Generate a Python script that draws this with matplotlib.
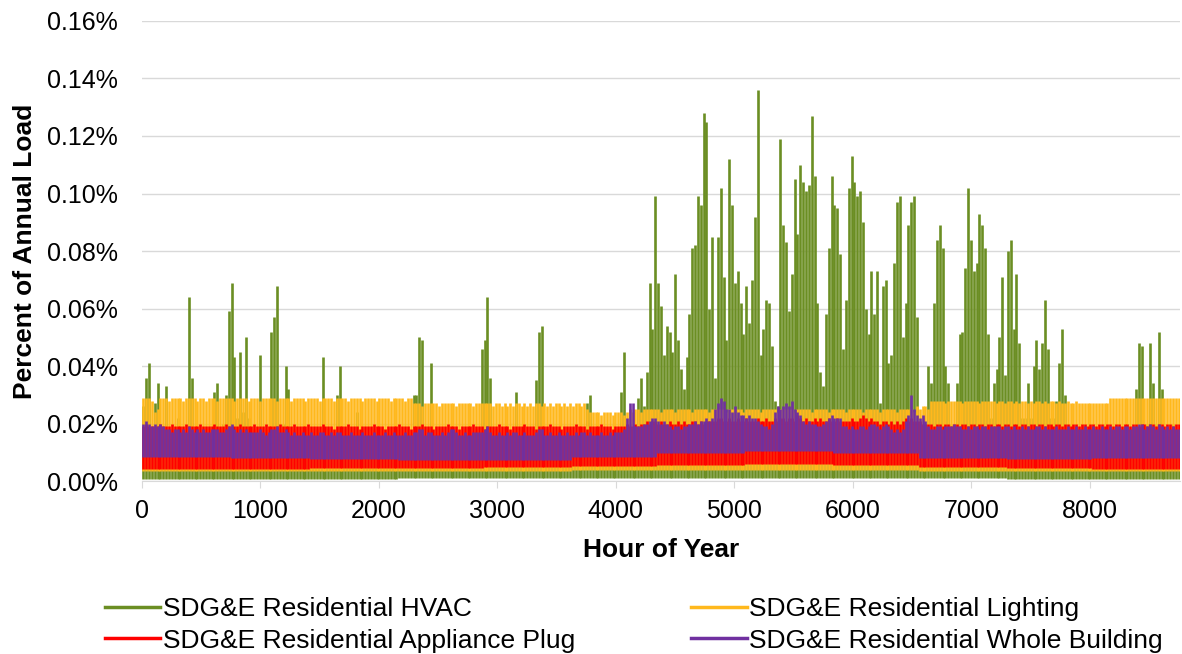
import numpy as np
import matplotlib
matplotlib.use("Agg")
import matplotlib.pyplot as plt
from matplotlib.lines import Line2D
from matplotlib.ticker import FuncFormatter

plt.rcParams['font.family'] = ['Liberation Sans', 'DejaVu Sans']

# daily peak values, units of 0.001 % of annual load (day 0 .. 364)
hvac_peak = [
    26, 36, 41, 15, 27, 34, 18, 15, 33, 15, 18, 15, 22, 15, 18, 15, 64, 36, 15, 18,
    15, 18, 15, 16, 15, 31, 34, 18, 20, 30, 59, 69, 43, 22, 45, 24, 50, 22, 15, 18,
    15, 44, 15, 18, 15, 52, 57, 68, 18, 20, 40, 32, 15, 18, 15, 16, 15, 18, 15, 16,
    15, 18, 15, 43, 15, 18, 15, 16, 30, 40, 15, 18, 15, 16, 15, 24, 15, 18, 15, 16,
    15, 18, 15, 16, 15, 18, 15, 16, 15, 18, 15, 16, 15, 18, 15, 30, 30, 50, 49, 15,
    18, 41, 15, 16, 15, 18, 15, 16, 15, 18, 15, 16, 15, 18, 15, 16, 15, 18, 15, 46,
    49, 64, 36, 15, 18, 15, 16, 15, 18, 15, 16, 31, 15, 18, 15, 16, 15, 18, 35, 52,
    54, 15, 18, 15, 16, 15, 18, 15, 16, 15, 18, 15, 16, 15, 18, 15, 27, 30, 15, 18,
    15, 16, 15, 18, 15, 16, 15, 18, 31, 45, 18, 20, 18, 20,
    29, 36, 26, 38, 69, 53, 99, 69, 61, 44, 54, 52, 45, 72, 49, 39, 32, 43, 58, 81,
    82, 99, 96, 128, 125, 60, 85, 36, 85, 102, 71, 49, 112, 96, 69, 73, 62, 51, 68, 55,
    70, 92,
    136, 44, 53, 63, 62, 47, 28, 26, 119, 89, 83, 59, 72, 105, 86, 110, 104, 101, 103, 127,
    106, 62, 38, 33, 58, 81, 106, 96, 95, 79, 46, 63, 102, 113, 104, 99, 101, 90, 60, 51,
    73, 58,
    73, 27, 68, 70, 41, 44, 76, 97, 99, 50, 62, 89, 97, 99, 57, 20, 20, 20, 40, 34,
    62, 84, 89, 81, 40, 34, 20, 20, 34, 51, 52, 74, 102, 84, 73, 76, 93, 89, 81, 51,
    22, 34, 39,
    50, 71, 37, 80, 84, 53, 72, 48, 22, 22, 34, 22, 40, 49, 39, 48, 63, 46, 22, 22,
    28, 41, 53, 30,
    18, 20, 18, 16, 18, 20, 18, 16, 18, 20, 18, 16, 18, 20, 18, 16, 18, 20, 18, 16,
    18, 20, 18, 16,
    32, 48, 47, 20, 20, 48, 34, 20, 52, 32, 18, 16, 18, 20, 18, 16,
]

lighting_peak = [
    29, 29, 29, 28, 24, 25, 29, 29, 29, 28, 29, 29, 29, 29, 28, 29, 29, 29, 29, 28,
    29, 29, 28, 29, 29, 29, 28, 29, 29, 29, 29, 29, 28, 29, 29, 29, 29, 28, 29, 29,
    29, 28, 29, 29, 29, 29, 29, 28, 29, 29, 29, 29, 28, 29, 29, 29, 29, 28, 29, 29,
    29, 29, 28, 29, 29, 29, 29, 28, 29, 29, 29, 29, 28, 29, 29, 29, 29, 28, 29, 29,
    29, 29, 28, 29, 29, 29, 29, 28, 29, 29, 29, 29, 28, 29, 29, 27, 27, 27, 26, 27,
    27, 27, 27, 27, 26, 27, 27, 27, 27, 27, 26, 27, 27, 27, 27, 27, 26, 27, 27, 27,
    27, 27, 27, 26, 27, 27, 26, 27, 26, 27, 26, 27, 27, 26, 27, 26, 27, 26, 27, 27,
    26, 27, 26, 27, 26, 27, 27, 26, 27, 26, 27, 26, 27, 27, 26, 27, 25, 24, 24, 24,
    24, 23, 24, 24, 24, 23, 24, 24, 24, 23, 24, 25, 24, 25, 25, 24, 25, 25, 25, 25,
    25, 25, 24, 25, 25, 25, 25, 24, 25, 25, 25, 25, 25, 24, 25, 25, 25, 25, 25, 24,
    25, 25, 25, 25, 25, 24, 25, 25, 25, 25, 25, 24, 25, 25, 25, 25, 25, 24, 25, 25,
    25, 25, 25, 24, 25, 25, 25, 25, 25, 24, 25, 25, 25, 25, 25, 24, 25, 25, 25, 25,
    25, 24, 25, 25, 25, 25, 25, 24, 25, 25, 25, 25, 25, 24, 25, 25, 25, 25, 25, 24,
    25, 25, 25, 25, 25, 24, 25, 25, 25, 25, 25, 24, 26, 25, 26, 26, 25, 28, 28, 28,
    28, 28, 27, 28, 28, 28, 28, 28, 27, 28, 28, 28, 28, 28, 27, 28, 28, 28, 28, 28,
    27, 28, 28, 27, 28, 28, 27, 28, 27, 28, 28, 27, 28, 27, 28, 28, 27, 28, 27, 28,
    28, 27, 28, 27, 27, 28, 27, 27, 28, 27, 27, 27, 27, 27, 27, 27, 27, 27, 27, 27,
    29, 29, 29, 29, 29, 29, 29, 29, 29, 29, 29, 29, 29, 29, 29, 29, 29, 29, 29, 29,
    29, 29, 29, 29, 29,
]

plug_peak = [
    19, 20, 19, 19, 19, 19, 20, 19, 19, 19, 20, 19, 19, 19, 19, 20, 19, 19, 19, 19,
    20, 19, 19, 19, 19, 20, 19, 19, 19, 20, 19, 19, 19, 19, 20, 19, 19, 19, 19, 20,
    19, 19, 19, 20, 19, 19, 19, 19, 20, 19, 19, 19, 19, 20, 19, 19, 19, 19, 20, 19,
    19, 19, 19, 20, 19, 19, 19, 18, 19, 19, 19, 19, 20, 19, 19, 19, 18, 19, 19, 19,
    19, 20, 19, 19, 19, 18, 19, 19, 19, 19, 20, 19, 19, 19, 18, 19, 19, 19, 20, 19,
    19, 19, 18, 19, 19, 19, 19, 20, 19, 19, 19, 18, 19, 19, 19, 19, 20, 19, 19, 19,
    18, 19, 19, 19, 19, 20, 19, 19, 19, 18, 19, 19, 19, 19, 20, 19, 19, 19, 18, 19,
    19, 19, 19, 20, 19, 19, 19, 18, 19, 19, 19, 19, 20, 19, 19, 19, 18, 19, 19, 19,
    19, 20, 19, 19, 19, 18, 19, 19, 19, 19, 20, 19, 19, 20, 19, 20, 20, 21, 20, 21,
    21, 20, 21, 20, 20, 21, 20, 20, 21, 20, 21, 20, 20, 21, 21, 20, 21, 20, 21, 21,
    21, 21, 22, 22, 21, 21, 22, 21, 21, 22, 21, 21, 22, 21, 21, 21, 22, 21, 21, 22,
    21, 21, 22, 21, 22, 22, 21, 22, 22, 21, 23, 22, 21, 22, 21, 21, 22, 21, 22, 21,
    21, 22, 21, 21, 22, 21, 21, 21, 21, 22, 21, 21, 22, 23, 22, 21, 22, 21, 21, 20,
    21, 21, 20, 21, 20, 21, 20, 21, 22, 21, 22, 21, 21, 21, 20, 20, 20, 20, 19, 20,
    20, 19, 20, 20, 19, 20, 20, 19, 20, 20, 19, 20, 20, 19, 20, 20, 19, 20, 20, 19,
    20, 20, 19, 20, 20, 19, 20, 20, 19, 20, 20, 19, 20, 20, 19, 20, 20, 19, 20, 20,
    19, 20, 20, 19, 20, 20, 19, 20, 20, 19, 20, 20, 19, 20, 20, 19, 20, 20, 19, 20,
    20, 19, 20, 20, 19, 20, 20, 19, 20, 20, 19, 20, 20, 19, 20, 20, 19, 20, 20, 19,
    20, 20, 19, 20, 20,
]

building_peak = [
    20, 21, 20, 19, 20, 19, 20, 19, 18, 18, 17, 18, 18, 17, 18, 17, 19, 18, 17, 18,
    17, 18, 17, 17, 18, 18, 18, 17, 17, 18, 19, 20, 18, 17, 18, 17, 18, 17, 17, 17,
    17, 18, 17, 16, 17, 18, 18, 19, 17, 17, 18, 17, 16, 17, 16, 16, 17, 16, 16, 17,
    16, 16, 17, 17, 16, 16, 17, 16, 17, 17, 16, 16, 16, 17, 16, 16, 16, 17, 16, 16,
    16, 17, 16, 16, 16, 17, 16, 16, 17, 16, 16, 16, 17, 16, 16, 17, 17, 18, 18, 16,
    17, 17, 16, 16, 16, 17, 16, 17, 18, 18, 17, 16, 16, 17, 16, 16, 17, 17, 17, 17,
    18, 19, 17, 16, 16, 17, 16, 16, 17, 16, 17, 17, 16, 16, 17, 16, 16, 16, 17, 18,
    18, 16, 16, 17, 16, 16, 17, 16, 16, 17, 16, 16, 17, 16, 17, 17, 16, 17, 16, 16,
    16, 17, 16, 16, 17, 16, 17, 17, 17, 18, 22, 27, 27, 19, 19, 19, 20, 20, 21, 22,
    22, 21, 20, 21, 20, 19, 18, 19, 19, 18, 19, 19, 20, 20, 21, 20, 21, 21, 22, 21,
    22, 25, 27, 29, 28, 25, 25, 24, 26, 24, 23, 23, 22, 23, 22, 22, 21, 20, 19, 19,
    18, 20, 24, 26, 25, 26, 27, 26, 28, 25, 24, 23, 21, 20, 21, 20, 20, 19, 19, 20,
    21, 22, 23, 22, 22, 22, 19, 19, 18, 19, 18, 18, 19, 19, 18, 19, 20, 20, 19, 18,
    19, 20, 19, 18, 17, 18, 17, 18, 21, 23, 30, 25, 23, 22, 23, 21, 19, 18, 18, 19,
    19, 18, 19, 19, 19, 20, 19, 19, 18, 18, 19, 18, 19, 19, 18, 19, 19, 18, 19, 19,
    19, 19, 18, 19, 19, 18, 19, 18, 18, 19, 18, 19, 18, 18, 19, 19, 18, 19, 18, 18,
    18, 19, 18, 18, 18, 19, 18, 18, 19, 18, 18, 19, 18, 18, 19, 18, 18, 19, 18, 18,
    19, 18, 19, 19, 18, 19, 19, 18, 19, 19, 20, 20, 18, 19, 20, 19, 18, 20, 19, 18,
    19, 18, 19, 18, 18,
]

# monthly night-time minimum, same units
month_start = [0, 31, 59, 90, 120, 151, 181, 212, 243, 273, 304, 334, 365]
hvac_low = [0.6, 0.6, 0.7, 0.9, 1.0, 1.0, 1.0, 1.0, 1.0, 0.9, 0.7, 0.6]
lighting_low = [3.4, 3.4, 3.4, 3.5, 3.6, 3.8, 4.0, 4.0, 3.8, 3.5, 3.4, 3.4]
plug_low = [4.3, 4.3, 4.4, 4.6, 4.8, 5.2, 5.6, 5.8, 5.4, 4.8, 4.4, 4.3]
building_low = [8.2, 8.0, 7.6, 7.2, 7.4, 8.2, 9.8, 10.6, 9.6, 8.0, 7.6, 8.0]

labels = ['SDG&E Residential HVAC', 'SDG&E Residential Lighting',
          'SDG&E Residential Appliance Plug', 'SDG&E Residential Whole Building']
colors = ['#6b8e23', '#ffb81c', '#ff0000', '#7030a0']

series = [(hvac_peak, hvac_low), (lighting_peak, lighting_low),
          (plug_peak, plug_low), (building_peak, building_low)]

fig = plt.figure(figsize=(11.82, 6.54), dpi=100)
ax = fig.add_axes([0.1199, 0.2645, 0.8782, 0.7034])

day_hour = np.arange(365) * 24 + 14
for k, (peak, low) in enumerate(series):
    peak = np.array(peak) * 1e-5
    for m in range(12):
        a, b = month_start[m], month_start[m + 1]
        ax.vlines(day_hour[a:b], low[m] * 1e-5, peak[a:b],
                  color=colors[k], lw=1.9, zorder=2 + k)

ax.set_xlim(0, 8760)
ax.set_ylim(0, 0.0016)
ax.set_xticks(np.arange(0, 8001, 1000))
ax.set_yticks(np.arange(0, 0.00161, 0.0002))
ax.yaxis.set_major_formatter(FuncFormatter(lambda v, p: '{:.2%}'.format(v)))

ax.grid(axis='y', color='#d9d9d9', lw=1)
ax.set_axisbelow(True)
for s in ['top', 'right', 'left']:
    ax.spines[s].set_visible(False)
ax.spines['bottom'].set_color('#d9d9d9')
ax.tick_params(axis='y', length=0, pad=17, labelsize=18)
ax.tick_params(axis='x', length=5, color='#d9d9d9', pad=8, labelsize=18)

ax.set_xlabel('Hour of Year', fontsize=19, fontweight='bold', labelpad=11)
ax.set_ylabel('Percent of Annual Load', fontsize=19, fontweight='bold', labelpad=7)

# legend fills column-wise, so order entries to read row-wise like the original
order = [0, 2, 1, 3]
handles = [Line2D([], [], color=colors[i], lw=2.5) for i in order]
fig.legend(handles, [labels[i] for i in order], loc='upper left',
           bbox_to_anchor=(0.0888, 0.0864), ncol=2, frameon=False, fontsize=19,
           handlelength=2.1, handletextpad=0.1, columnspacing=4.4,
           labelspacing=0.27, borderpad=0, borderaxespad=0)

fig.savefig('out.png', dpi=100)
